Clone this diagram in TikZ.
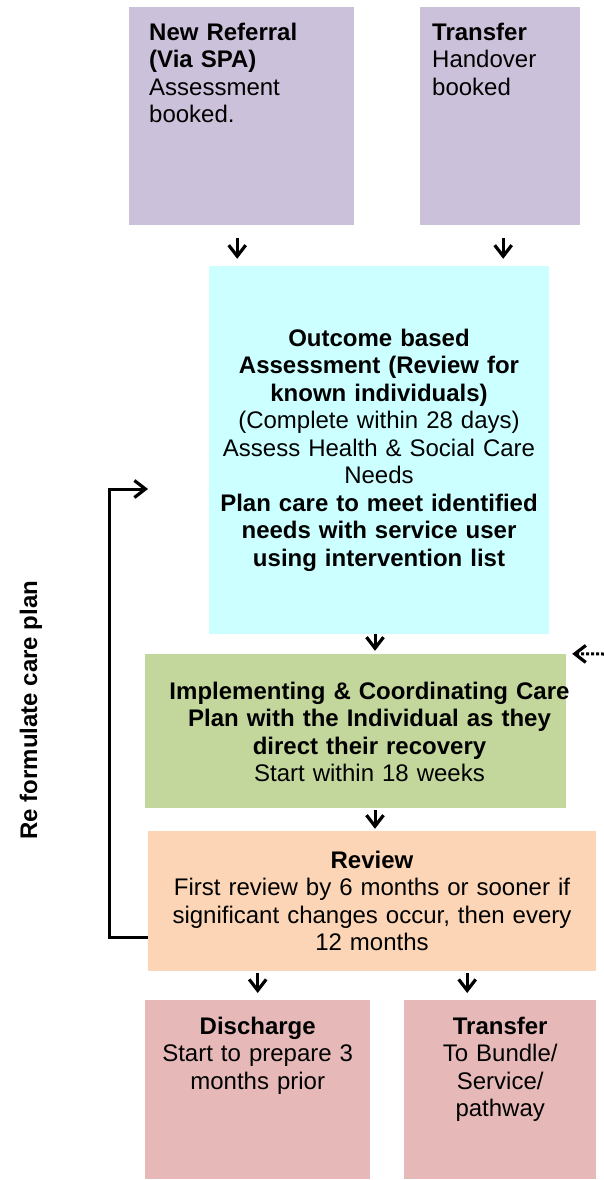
\documentclass[tikz,border=0pt]{standalone}
\usepackage{fontspec}
\setmainfont{Liberation Sans}
\usetikzlibrary{arrows.meta}
\definecolor{lilac}{HTML}{CCC1DA}
\definecolor{paleaqua}{HTML}{CCFFFF}
\definecolor{sage}{HTML}{C3D69B}
\definecolor{peach}{HTML}{FBD5B5}
\definecolor{rosy}{HTML}{E6B9B8}
\tikzset{
  box/.style={rectangle, inner xsep=0pt, inner ysep=0pt, font=\fontsize{24}{27.5}\selectfont},
  topbox/.style={box, anchor=north west, inner ysep=14pt, text height=19pt},
  arr/.style={line width=3pt, -{Straight Barb[length=11pt,width=17pt,line width=3.2pt]}},
}

\begin{document}
\begin{tikzpicture}[x=1pt,y=-1pt]
			%%%%% START %%%%%
			\useasboundingbox (0,0) rectangle (604,1180);
			
			% entry boxes
			\node[topbox, fill=lilac, minimum width=225pt, text width=185pt, align=left, text depth=171pt] (refer) at (129,7)
				{\textbf{New Referral}\\ \textbf{(Via SPA)}\\ Assessment\\ booked.};
			\node[topbox, fill=lilac, minimum width=160pt, text width=136pt, align=left, text depth=171pt] (handin) at (420,7)
				{\textbf{Transfer}\\ Handover\\ booked};
			
			% main chain
			\node[box, fill=paleaqua, minimum width=340pt, minimum height=368pt, text width=340pt, align=center] (assess) at (379,450)
				{\textbf{Outcome based}\\ \textbf{Assessment (Review for}\\ \textbf{known individuals)}\\
				 (Complete within 28 days)\\ Assess Health \& Social Care\\ Needs\\
				 \textbf{Plan care to meet identified}\\ \textbf{needs with service user}\\ \textbf{using intervention list}};
			\node[box, fill=sage, minimum width=421pt, minimum height=154pt] (implement) at (355.5,731) {};
			\node[box, text width=421pt, align=center] (implementtext) at (369.5,732)
				{\textbf{Implementing \& Coordinating Care}\\ \textbf{Plan with the Individual as they}\\ \textbf{direct their recovery}\\ Start within 18 weeks};
			\node[box, fill=peach, minimum width=448pt, minimum height=140pt, text width=448pt, align=center] (review) at (372,901)
				{\textbf{Review}\\ First review by 6 months or sooner if\\ significant changes occur, then every\\ 12 months};
			
			% exit boxes
			\node[topbox, fill=rosy, minimum width=225pt, text width=225pt, align=center, text height=20pt, text depth=131pt] (discharge) at (145,1000)
				{\textbf{Discharge}\\ Start to prepare 3\\ months prior};
			\node[topbox, fill=rosy, minimum width=192pt, text width=192pt, align=center, text height=20pt, text depth=131pt] (handout) at (404,1000)
				{\textbf{Transfer}\\ To Bundle/\\ Service/\\ pathway};
			
			\node[box, rotate=90, font=\fontsize{24}{27.5}\selectfont\bfseries] (reform) at (31,710) {Re formulate care plan};
			
			\coordinate (dotin) at (604,654);
			\coordinate (loopin) at (148,489);
			
			% arrows
			\draw[arr, shorten <=13pt, shorten >=7pt] ([xshift=-4.5pt]refer.south) -- ([xshift=-4.5pt]refer.south |- assess.north);
			\draw[arr, shorten <=13pt, shorten >=7pt] ([xshift=3pt]handin.south) -- ([xshift=3pt]handin.south |- assess.north);
			\draw[arr, shorten >=3pt] ([xshift=-4pt]assess.south) -- ([xshift=-4pt]assess.south |- implement.north);
			\draw[arr, shorten <=2pt, shorten >=2pt] ([xshift=-4pt]assess.south |- implement.south) -- ([xshift=-4pt]assess.south |- review.north);
			\draw[arr, shorten <=2pt, shorten >=7pt] (discharge.north |- review.south) -- (discharge.north);
			\draw[arr, shorten <=2pt, shorten >=7pt] ([xshift=-33pt]handout.north |- review.south) -- ([xshift=-33pt]handout.north);
			\draw[arr, dotted, shorten >=6pt] (dotin) -- (implement.north east);
			\draw[arr] ([yshift=-36pt]review.west) -- ++(-38,0) |- (loopin);
			
			%%%%% END %%%%%
		\end{tikzpicture}
\end{document}
